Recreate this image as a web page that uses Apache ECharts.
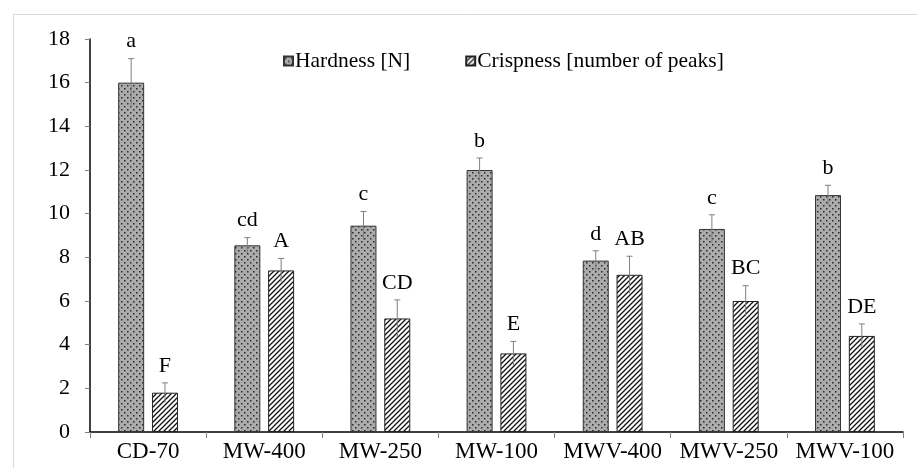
<!DOCTYPE html>
<html><head><meta charset="utf-8">
<script src="https://cdn.jsdelivr.net/npm/echarts@6/dist/echarts.min.js"></script>
<style>html,body{margin:0;padding:0;background:#fff}#c{width:917px;height:468px}</style>
</head><body><div id="c"></div>
<script>
const categories = ['CD-70','MW-400','MW-250','MW-100','MWV-400','MWV-250','MWV-100'];
const hardness = [16.0, 8.55, 9.45, 12.0, 7.85, 9.3, 10.85];
const hardnessErr = [1.1, 0.35, 0.65, 0.55, 0.45, 0.65, 0.45];
const hardnessLetters = ['a','cd','c','b','d','c','b'];
const crispness = [1.8, 7.4, 5.2, 3.6, 7.2, 6.0, 4.4];
const crispnessErr = [0.45, 0.55, 0.85, 0.55, 0.85, 0.7, 0.55];
const crispnessLetters = ['F','A','CD','E','AB','BC','DE'];
const yTicks = {min:0, max:18, interval:2};

function dotPattern(){
  const c=document.createElement('canvas'); c.width=6; c.height=6;
  const g=c.getContext('2d');
  g.fillStyle='#ababab'; g.fillRect(0,0,6,6);
  g.fillStyle='#2a2a2a';
  g.fillRect(1,1,1.5,1.5); g.fillRect(4,4,1.5,1.5);
  return c;
}
function stripePattern(){
  const s=5;
  const c=document.createElement('canvas'); c.width=s; c.height=s;
  const g=c.getContext('2d');
  g.fillStyle='#fff'; g.fillRect(0,0,s,s);
  g.strokeStyle='#111'; g.lineWidth=1.3;
  g.beginPath();
  g.moveTo(-1,s+1); g.lineTo(s+1,-1);
  g.moveTo(-1,1); g.lineTo(1,-1);
  g.moveTo(s-1,s+1); g.lineTo(s+1,s-1);
  g.stroke();
  return c;
}
const FONT = 'Liberation Serif';
const BW = 26, GAP = 0.3;
const OFF = BW/2 + BW*GAP/2;

function errSeries(vals, errs, letters, sign){
  return {
    type:'custom', z:10,
    data: vals.map((v,i)=>[i, v, errs[i]]),
    renderItem: function(params, api){
      const i=api.value(0), v=api.value(1), e=api.value(2);
      const t=api.coord([i, v+e]), b=api.coord([i, v-e]);
      const x=t[0]+sign*OFF;
      return {type:'group', children:[
        {type:'line', shape:{x1:x,y1:t[1],x2:x,y2:b[1]}, style:{stroke:'#7f7f7f', lineWidth:1}},
        {type:'line', shape:{x1:x-3,y1:t[1],x2:x+3,y2:t[1]}, style:{stroke:'#7f7f7f', lineWidth:1}},
        {type:'text', style:{text:letters[params.dataIndex], x:x, y:t[1]-6, align:'center', verticalAlign:'bottom', fontFamily:FONT, fontSize:22, fill:'#000'}}
      ]};
    },
    silent:true
  };
}

const chart = echarts.init(document.getElementById('c'), null, {renderer:'canvas'});
chart.setOption({
  animation:false,
  backgroundColor:'#fff',
  graphic:[{type:'rect', z:-1, shape:{x:13.5,y:14.5,width:1000,height:1000}, style:{fill:'none', stroke:'#d9d9d9', lineWidth:1}}],
  grid:{left:90, right:14, top:39, bottom:36},
  legend:{
    data:['Hardness [N]','Crispness [number of peaks]'],
    left:278, top:45, itemWidth:9, itemHeight:9, itemGap:55,
    icon:'rect',
    textStyle:{fontFamily:FONT, fontSize:21.5, color:'#000', padding:[0,0,0,-3]}
  },
  xAxis:{
    type:'category', data:categories,
    axisLine:{lineStyle:{color:'#000', width:1.5}},
    axisTick:{show:true, length:6, lineStyle:{color:'#7f7f7f'}},
    axisLabel:{fontFamily:FONT, fontSize:23, color:'#000', margin:8, interval:0}
  },
  yAxis:{
    type:'value', min:yTicks.min, max:yTicks.max, interval:yTicks.interval,
    splitLine:{show:false},
    axisLine:{show:true, lineStyle:{color:'#000', width:1.5}},
    axisTick:{show:true, length:5, lineStyle:{color:'#7f7f7f'}},
    axisLabel:{fontFamily:FONT, fontSize:22, color:'#000', margin:20}
  },
  series:[
    {name:'Hardness [N]', type:'bar', data:hardness, barWidth:BW, barGap:(GAP*100)+'%',
     itemStyle:{color:{image:dotPattern(), repeat:'repeat'}, borderColor:'#333', borderWidth:1}},
    {name:'Crispness [number of peaks]', type:'bar', data:crispness, barWidth:BW,
     itemStyle:{color:{image:stripePattern(), repeat:'repeat'}, borderColor:'#222', borderWidth:1}},
    errSeries(hardness, hardnessErr, hardnessLetters, -1),
    errSeries(crispness, crispnessErr, crispnessLetters, 1)
  ]
});
</script></body></html>
